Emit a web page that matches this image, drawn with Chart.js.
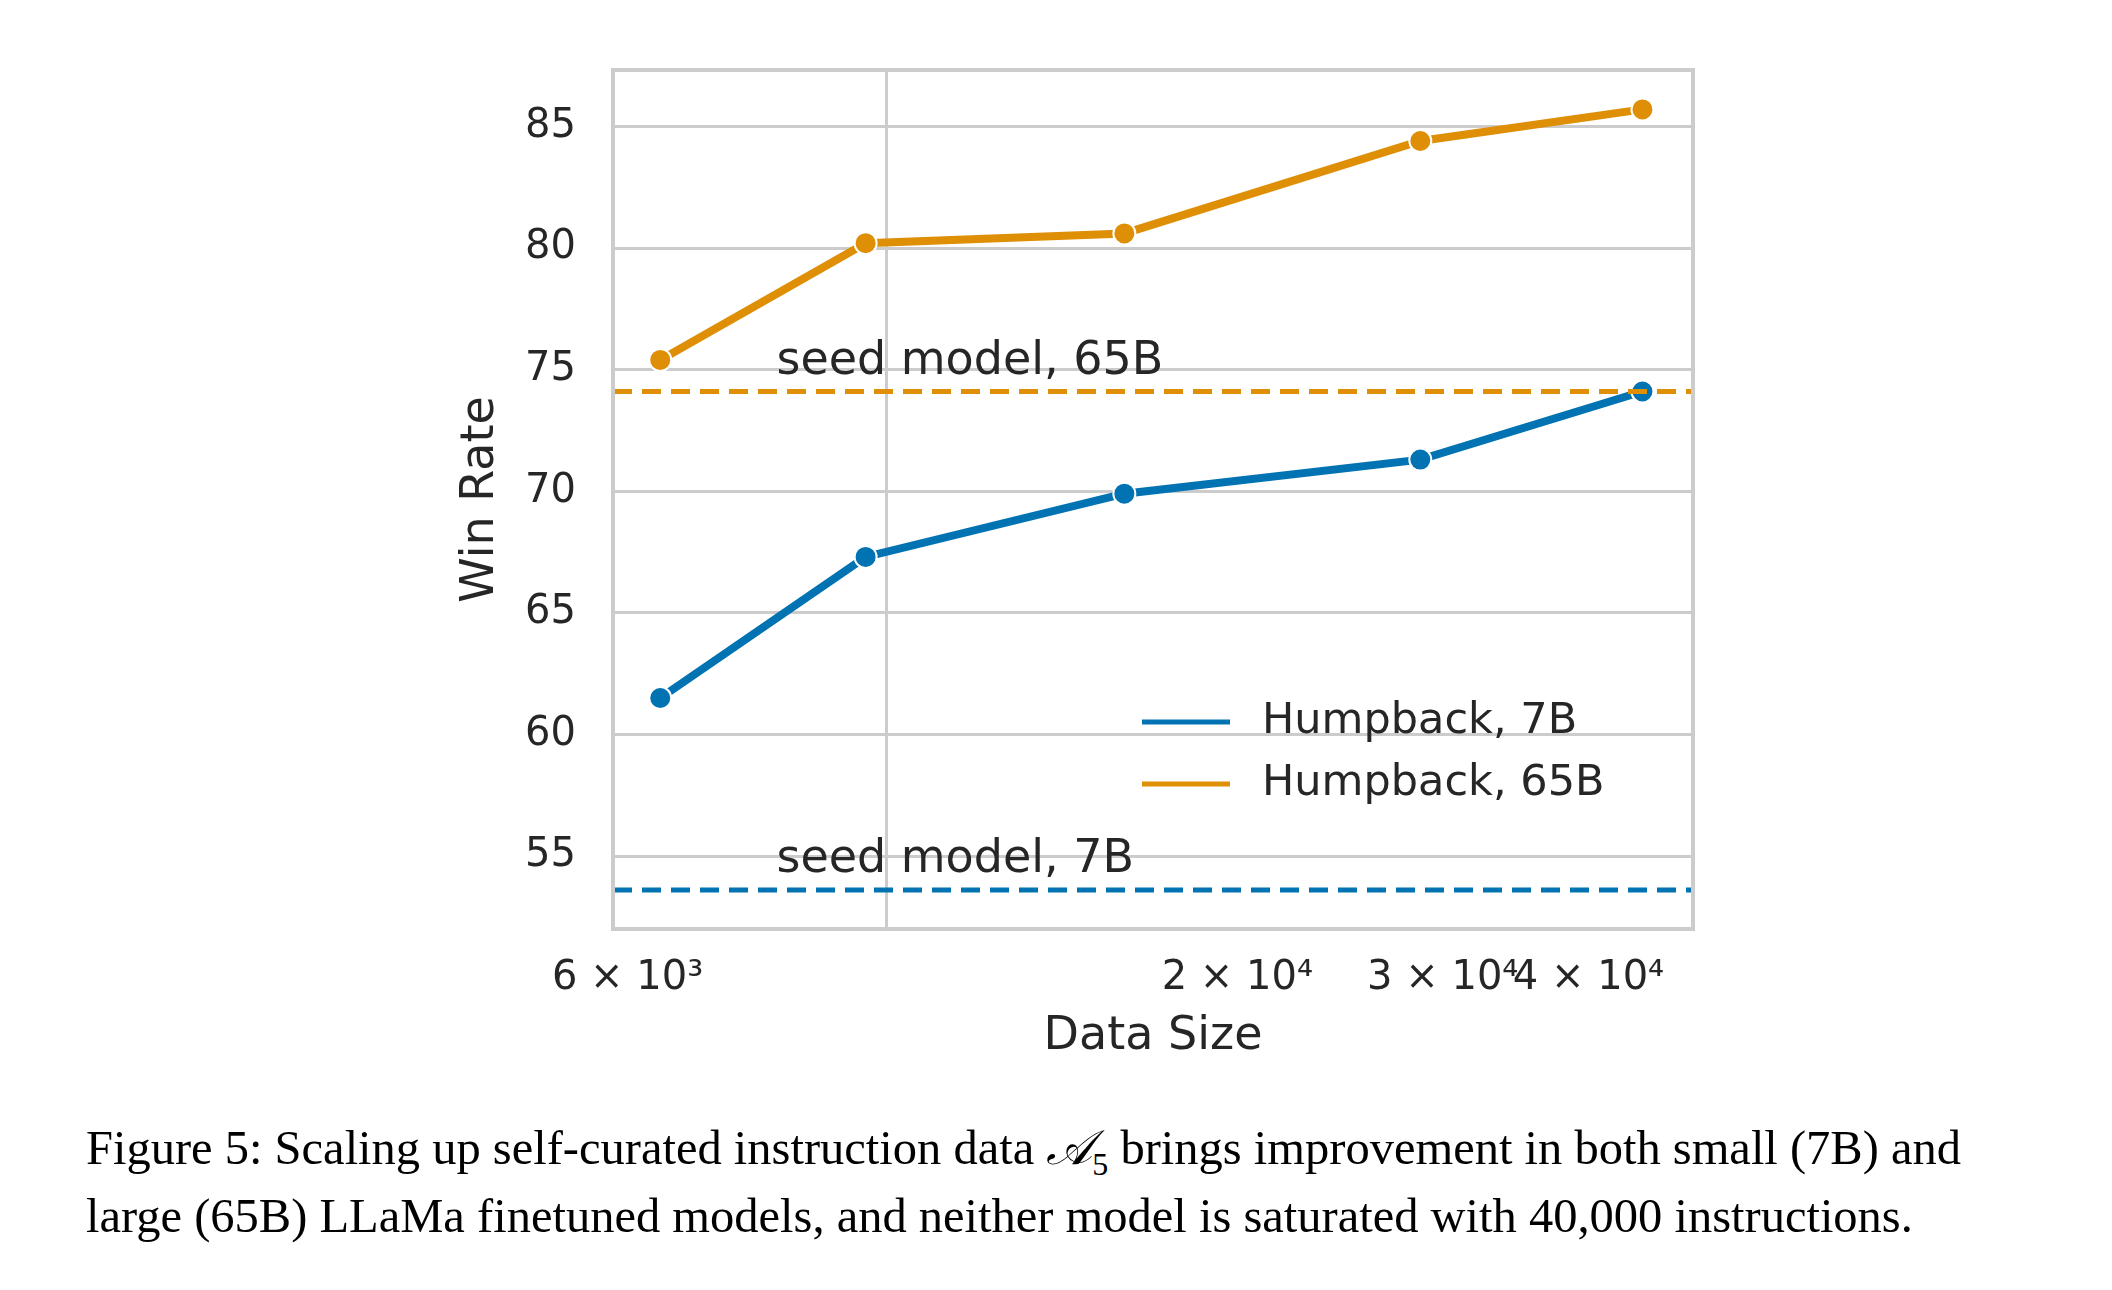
<!DOCTYPE html>
<html><head><meta charset="utf-8">
<script src="https://cdn.jsdelivr.net/npm/chart.js@4"></script>
<style>
body{margin:0;background:#fff;width:2112px;height:1290px;overflow:hidden}
#wrap{position:absolute;left:0;top:0;width:2112px;height:1100px}
#cap{position:absolute;left:86px;top:1122px;width:2040px;font-family:"Liberation Serif",serif;font-size:48.5px;line-height:51px;color:#000;white-space:nowrap}
</style></head><body>
<div id="wrap"><canvas id="c"></canvas></div>
<div id="cap">Figure 5: Scaling up self-curated instruction data <i>𝒜</i><sub style="font-size:32px">5</sub> brings improvement in both small (7B) and<br>large (65B) LLaMa finetuned models, and neither model is saturated with 40,000 instructions.</div>
<script>
// data
var data_size = [6400, 9600, 16000, 28700, 44500];
var humpback_7b = [61.5, 67.3, 69.9, 71.3, 74.1];
var humpback_65b = [75.4, 80.2, 80.6, 84.4, 85.7];
var seed_7b = 53.6;
var seed_65b = 74.1;
var x_ticks = [6000, 10000, 20000, 30000, 40000];
var x_tick_labels = ["6 × 10³", "", "2 × 10⁴", "3 × 10⁴", "4 × 10⁴"];
var blue = "#0173b2", orange = "#de8f05", txt = "#262626";

function pts(ys){ return data_size.map(function(x,i){ return {x:x, y:ys[i]}; }); }
function flat(v){ return [{x:5830,y:v},{x:49170,y:v}]; }

var labels_plugin = {
  id: "labels_plugin",
  afterDatasetsDraw: function(chart){
    var c = chart.ctx, xs = chart.scales.x, ys = chart.scales.y, a = chart.chartArea;
    c.save();
    c.font = "46px 'DejaVu Sans'";
    c.fillStyle = txt;
    c.textBaseline = "alphabetic";
    c.fillText("seed model, 65B", xs.getPixelForValue(8050), ys.getPixelForValue(seed_65b) - 18);
    c.fillText("seed model, 7B", xs.getPixelForValue(8050), ys.getPixelForValue(seed_7b) - 18);
    // legend
    c.font = "43px 'DejaVu Sans'";
    var items = [["Humpback, 7B", blue], ["Humpback, 65B", orange]];
    var lx = 1142, ly = 722;
    items.forEach(function(it, i){
      var y = ly + i*62;
      c.strokeStyle = it[1]; c.lineWidth = 5;
      c.beginPath(); c.moveTo(lx, y); c.lineTo(lx+88, y); c.stroke();
      c.textBaseline = "middle";
      c.fillText(it[0], lx + 120, y);
    });
    // axis titles
    c.font = "46px 'DejaVu Sans'";
    c.textAlign = "center"; c.textBaseline = "middle";
    c.fillText("Data Size", (a.left + a.right) / 2, a.bottom + 108);
    c.translate(a.left - 132, (a.top + a.bottom) / 2);
    c.rotate(-Math.PI / 2);
    c.fillText("Win Rate", 0, 0);
    c.restore();
  }
};

new Chart(document.getElementById("c"), {
  type: "line",
  data: {
    datasets: [{
        data: flat(seed_65b), borderColor: orange, borderWidth: 5, borderDash: [19, 10], pointRadius: 0
      }, {
        data: flat(seed_7b), borderColor: blue, borderWidth: 5, borderDash: [19, 10], pointRadius: 0
      }, {
        data: pts(humpback_7b), label: "Humpback, 7B", borderColor: blue, backgroundColor: blue,
        borderWidth: 8, pointRadius: 11, pointBorderColor: "#fff", pointBorderWidth: 2
      }, {
        data: pts(humpback_65b), label: "Humpback, 65B", borderColor: orange, backgroundColor: orange,
        borderWidth: 8, pointRadius: 11, pointBorderColor: "#fff", pointBorderWidth: 2
      }
    ]
  },
  options: {
    responsive: true, maintainAspectRatio: false, animation: false,
    layout: { padding: { left: 0, right: 419, top: 70, bottom: 0 } },
    plugins: { legend: { display: false }, tooltip: { enabled: false } },
    scales: {
      x: {
        type: "logarithmic", min: 5830, max: 49170,
        afterBuildTicks: function(s){ s.ticks = x_ticks.map(function(v){ return {value:v}; }); },
        afterFit: function(s){ s.height = 171; },
        ticks: { autoSkip: false, maxRotation: 0, color: txt, font: { family: "DejaVu Sans", size: 40 }, padding: 26,
          callback: function(v, i){ return x_tick_labels[i]; } },
        grid: { color: function(ctx){ return ctx.tick && ctx.tick.value == 10000 ? "#cccccc" : "rgba(0,0,0,0)"; },
          lineWidth: 3, drawTicks: false },
        border: { color: "#cccccc", width: 4 }
      },
      y: {
        min: 52, max: 87.32,
        afterBuildTicks: function(s){ s.ticks = [55,60,65,70,75,80,85].map(function(v){ return {value:v}; }); },
        afterFit: function(s){ s.width = 613; },
        ticks: { color: txt, font: { family: "DejaVu Sans", size: 40 }, padding: 37 },
        grid: { color: "#cccccc", lineWidth: 3, drawTicks: false },
        border: { color: "#cccccc", width: 4 }
      }
    }
  },
  plugins: [labels_plugin, {
    id: "frame",
    afterDraw: function(chart){
      var a = chart.chartArea, c = chart.ctx;
      c.save(); c.strokeStyle = "#cccccc"; c.lineWidth = 4;
      c.strokeRect(a.left, a.top, a.right - a.left, a.bottom - a.top);
      c.restore();
    }
  }]
});
</script>
</body></html>
